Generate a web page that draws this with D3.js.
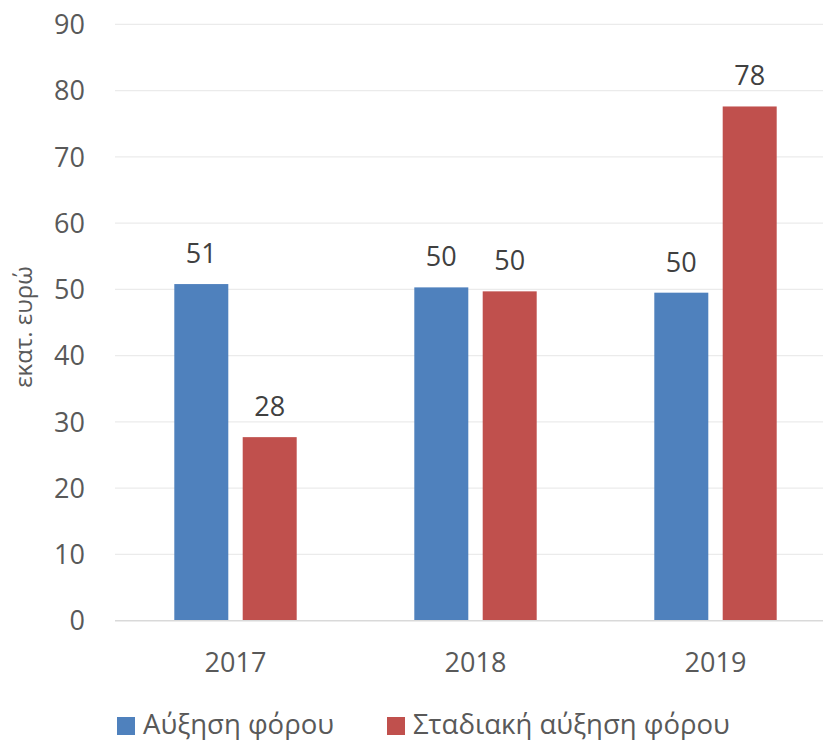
<!DOCTYPE html>
<html>
<head>
<meta charset="utf-8">
<script src="https://cdn.jsdelivr.net/npm/d3@7"></script>
<style>
  html, body { margin: 0; padding: 0; background: #fff; }
  svg { display: block; font-family: "Open Sans", "Noto Sans", sans-serif; }
</style>
</head>
<body>
<svg id="chart" width="823" height="740"></svg>
<script>
const categories = ["2017", "2018", "2019"];
const seriesNames = ["Αύξηση φόρου", "Σταδιακή αύξηση φόρου"];
const seriesA = [50.8, 50.3, 49.5];
const seriesB = [27.7, 49.7, 77.6];
const yTicks = [0, 10, 20, 30, 40, 50, 60, 70, 80, 90];
const yTitle = "εκατ. ευρώ";
const colors = ["#4F81BD", "#C0504D"];

const svg = d3.select("#chart");
const textColor = "#595959";

const x0 = d3.scaleBand().domain(categories).range([115.5, 835.5]).padding(0);
const bw = x0.bandwidth();
const groupHalf = bw * 0.255;
const x1 = d3.scaleBand().domain(seriesNames)
  .range([bw / 2 - groupHalf, bw / 2 + groupHalf])
  .paddingInner(0.2105).paddingOuter(0);
const y = d3.scaleLinear().domain([0, 90]).range([620.7, 24.3]);

// gridlines
svg.append("g").selectAll("line").data(yTicks.filter(d => d !== 0)).join("line")
  .attr("x1", 115).attr("x2", 823)
  .attr("y1", d => y(d)).attr("y2", d => y(d))
  .attr("stroke", "#ebebeb").attr("stroke-width", 1.3);

// y tick labels
svg.append("g").selectAll("text").data(yTicks).join("text")
  .attr("x", 85).attr("y", d => y(d))
  .attr("dy", "0.36em")
  .attr("text-anchor", "end")
  .attr("fill", textColor)
  .attr("font-size", 27)
  .text(d => d);

// y title
svg.append("text")
  .attr("transform", `translate(32, 327) rotate(-90)`)
  .attr("text-anchor", "middle")
  .attr("fill", textColor)
  .attr("font-size", 24)
  .text(yTitle);

const rows = categories.map((c, i) => ({ cat: c, vals: [seriesA[i], seriesB[i]] }));

const groups = svg.append("g").selectAll("g").data(rows).join("g")
  .attr("transform", d => `translate(${x0(d.cat)},0)`);

groups.selectAll("rect").data(d => d.vals.map((v, j) => ({ v, name: seriesNames[j], j }))).join("rect")
  .attr("x", d => x1(d.name))
  .attr("width", x1.bandwidth())
  .attr("y", d => y(d.v))
  .attr("height", d => y(0) - y(d.v))
  .attr("fill", d => colors[d.j]);

groups.selectAll("text.lbl").data(d => d.vals.map((v, j) => ({ v, name: seriesNames[j], j }))).join("text")
  .attr("class", "lbl")
  .attr("x", d => x1(d.name) + x1.bandwidth() / 2)
  .attr("y", d => y(d.v) - 21)
  .attr("text-anchor", "middle")
  .attr("fill", "#404040")
  .attr("font-size", 27)
  .text(d => Math.round(d.v));

// zero axis line
svg.append("line")
  .attr("x1", 115).attr("x2", 823)
  .attr("y1", y(0)).attr("y2", y(0))
  .attr("stroke", "#d9d9d9").attr("stroke-width", 1.5);

// x labels
svg.append("g").selectAll("text").data(categories).join("text")
  .attr("x", d => x0(d) + bw / 2)
  .attr("y", 672)
  .attr("text-anchor", "middle")
  .attr("fill", textColor)
  .attr("font-size", 27)
  .text(d => d);

// legend
const legendX = [117, 387];
const leg = svg.append("g").selectAll("g").data(seriesNames).join("g")
  .attr("transform", (d, i) => `translate(${legendX[i]}, 717)`);
leg.append("rect").attr("width", 18).attr("height", 18).attr("fill", (d, i) => colors[i]);
leg.append("text")
  .attr("x", 26).attr("y", 16.5)
  .attr("fill", textColor)
  .attr("font-size", 27.5)
  .text(d => d);
</script>
</body>
</html>
